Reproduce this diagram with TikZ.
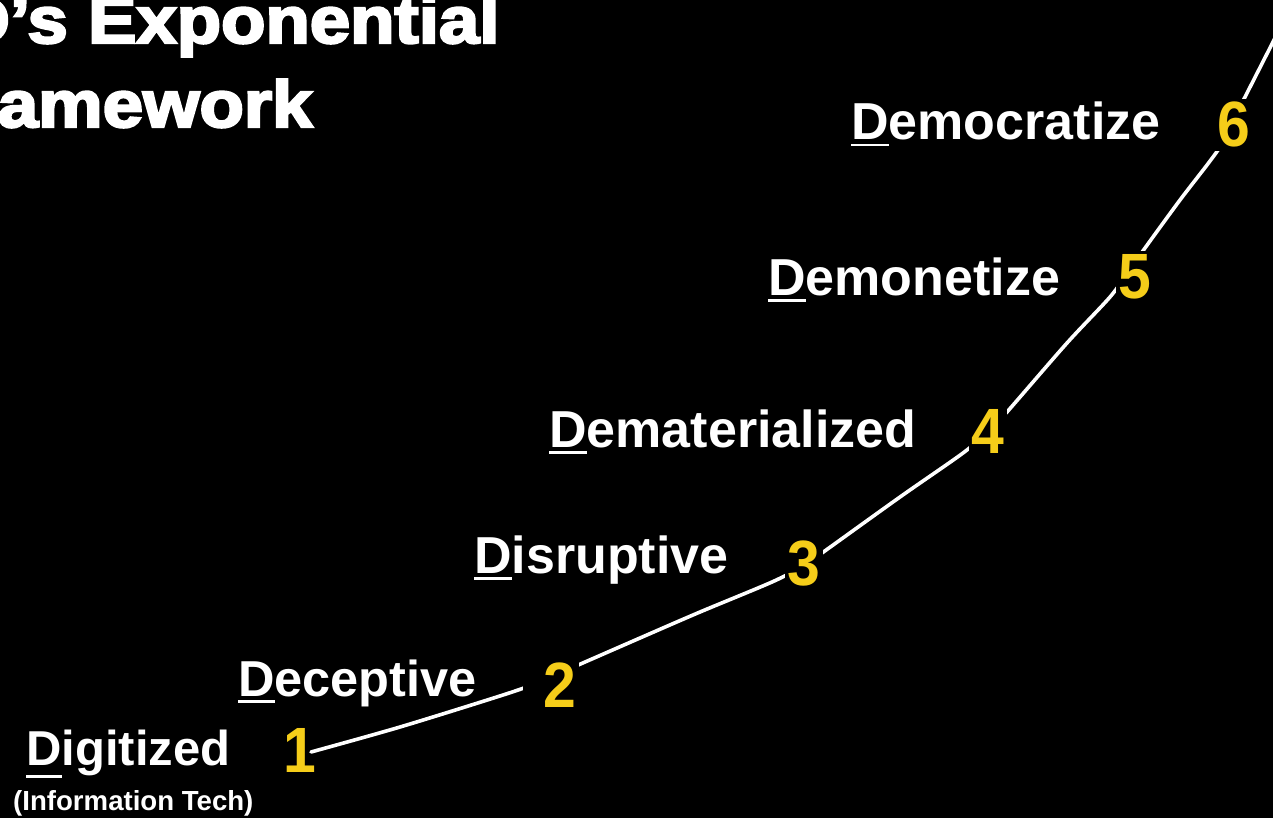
\documentclass[tikz,border=0pt]{standalone}
\usepackage{fontspec}
\setmainfont{Liberation Sans}
\newfontfamily\titlefont[FakeBold=3.5]{Liberation Sans Bold}
\definecolor{numyellow}{RGB}{245,205,25}
\newcommand\uD[1][6.5pt]{\setbox0\hbox{D}\rlap{\rule[-#1]{\wd0}{2.8pt}}\box0}
\begin{document}
\begin{tikzpicture}[x=1pt,y=-1pt,
  lbl/.style={anchor=base west, inner sep=0pt, text=white, font=\bfseries\fontsize{52}{60}\selectfont},
  num/.style={anchor=base, fill=black, inner sep=3pt, text=numyellow, font=\bfseries\fontsize{64}{70}\selectfont},
  curve/.style={draw=white, line width=3.6pt, line cap=round, line join=round},
  ttl/.style={anchor=base west, inner sep=0pt, text=white, font=\titlefont\fontsize{66}{70}\selectfont}]
\useasboundingbox (0,0) rectangle (1273,818);
\clip (0,0) rectangle (1273,818);
\fill[black] (0,0) rectangle (1273,818);
% title
\node[ttl] (t1) at (-83,43) {\scalebox{1.1}[1]{6D’s Exponential}};
\node[ttl] (t2) at (-75,127) {\scalebox{1.1}[1]{Framework}};
% curve
\draw[curve] plot[smooth, tension=0.5] coordinates {(311,752) (400,727) (503,695) (540,682) (560,673) (640,638) (700,612) (772,582) (805,565) (822,553) (900,497) (963,453) (990,430) (1007,412) (1067,343) (1110,297) (1128,272) (1145,248) (1180,200) (1218,150) (1232,122) (1245,97) (1276,36)};
% labels
\node[lbl] (l6) at (851,140) {\uD emocratize};
\node[lbl] (l5) at (768,295) {\uD emonetize};
\node[lbl] (l4) at (549,447) {\uD ematerialized};
\node[lbl] (l3) at (474,573) {\uD isruptive};
\node[lbl, font=\bfseries\fontsize{50.5}{58}\selectfont] (l2) at (238,696) {\uD eceptive};
\node[lbl, font=\bfseries\fontsize{49}{56}\selectfont] (l1) at (26,765) {\uD[13pt] igitized};
\node[lbl, font=\bfseries\fontsize{27.6}{30}\selectfont] (l1b) at (13,810) {(Information Tech)};
% numbers
\node[num, fill=none] (n1) at (300,772) {\scalebox{0.92}[1]{1}};
\node[num] (n2) at (551,707) {\hspace*{18pt}\scalebox{0.92}[1]{2}};
\node[num] (n3) at (804,585) {\scalebox{0.92}[1]{3}};
\node[num] (n4) at (988,453) {\scalebox{0.92}[1]{4}};
\node[num] (n5) at (1135,298) {\scalebox{0.92}[1]{5}};
\node[num] (n6) at (1234,147) {\scalebox{0.92}[1]{6}};
\end{tikzpicture}
\end{document}
